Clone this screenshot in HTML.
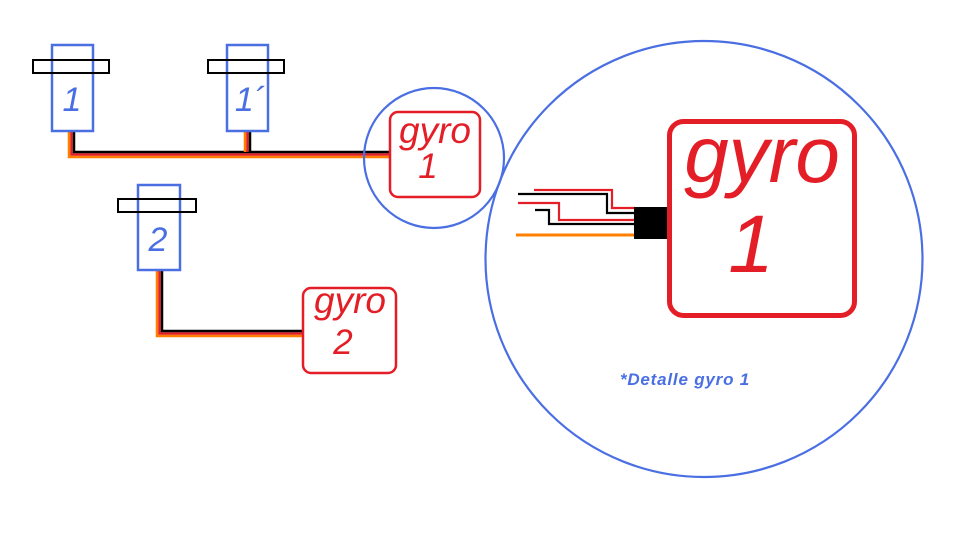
<!DOCTYPE html>
<html>
<head>
<meta charset="utf-8">
<style>
  html, body { margin:0; padding:0; background:#ffffff; }
  svg { display:block; }
  text { font-family: "Liberation Sans", "DejaVu Sans", sans-serif; font-style: italic; }
</style>
</head>
<body>
<svg width="958" height="540" viewBox="0 0 958 540" xmlns="http://www.w3.org/2000/svg">
  <rect x="0" y="0" width="958" height="540" fill="#ffffff"/>

  <!-- Wires: servo1 & servo1' to gyro1 -->
  <g fill="none" stroke-linejoin="miter">
    <!-- orange (outer/bottom-left) -->
    <polyline points="69,132 69,157 389,157" stroke="#ff7f00" stroke-width="2.5"/>
    <!-- red -->
    <polyline points="71.5,132 71.5,154.5 389,154.5" stroke="#e41e26" stroke-width="2.5"/>
    <!-- black -->
    <polyline points="74,132 74,152 389,152" stroke="#000000" stroke-width="2.5"/>
    <!-- servo 1' drop -->
    <line x1="245" y1="132" x2="245" y2="152" stroke="#ff7f00" stroke-width="2.5"/>
    <line x1="247.5" y1="132" x2="247.5" y2="152" stroke="#e41e26" stroke-width="2.5"/>
    <line x1="250" y1="132" x2="250" y2="152" stroke="#000000" stroke-width="2.5"/>

    <!-- servo 2 to gyro 2 -->
    <polyline points="157,271 157,336 302,336" stroke="#ff7f00" stroke-width="2.5"/>
    <polyline points="159.5,271 159.5,333.5 302,333.5" stroke="#e41e26" stroke-width="2.5"/>
    <polyline points="162,271 162,331 302,331" stroke="#000000" stroke-width="2.5"/>
  </g>

  <!-- Servo 1 -->
  <rect x="52" y="45" width="41" height="86" fill="none" stroke="#4a6fe3" stroke-width="2.5"/>
  <rect x="33" y="60" width="76" height="13" fill="none" stroke="#000" stroke-width="2"/>
  <text x="72" y="111" font-size="34" fill="#4a6fe3" text-anchor="middle">1</text>

  <!-- Servo 1' -->
  <rect x="227" y="45" width="41" height="86" fill="none" stroke="#4a6fe3" stroke-width="2.5"/>
  <rect x="208" y="60" width="76" height="13" fill="none" stroke="#000" stroke-width="2"/>
  <text x="250" y="111" font-size="34" fill="#4a6fe3" text-anchor="middle">1´</text>

  <!-- Servo 2 -->
  <rect x="138" y="185" width="42" height="85" fill="none" stroke="#4a6fe3" stroke-width="2.5"/>
  <rect x="118" y="199" width="78" height="13" fill="none" stroke="#000" stroke-width="2"/>
  <text x="158" y="251" font-size="34" fill="#4a6fe3" text-anchor="middle">2</text>

  <!-- Gyro 1 small -->
  <rect x="390" y="112" width="90" height="85" rx="8" ry="8" fill="#ffffff" stroke="#e41e26" stroke-width="2.5"/>
  <text x="435" y="143" font-size="37" fill="#e41e26" text-anchor="middle">gyro</text>
  <text x="428" y="178" font-size="35" fill="#e41e26" text-anchor="middle">1</text>

  <!-- Gyro 2 -->
  <rect x="303" y="288" width="93" height="85" rx="8" ry="8" fill="#ffffff" stroke="#e41e26" stroke-width="2.5"/>
  <text x="350" y="313" font-size="37" fill="#e41e26" text-anchor="middle">gyro</text>
  <text x="343" y="354" font-size="35" fill="#e41e26" text-anchor="middle">2</text>

  <!-- Small circle -->
  <circle cx="434" cy="158" r="70" fill="none" stroke="#4a6fe3" stroke-width="2.2"/>

  <!-- Big circle -->
  <ellipse cx="704" cy="259" rx="218.5" ry="218" fill="none" stroke="#4a6fe3" stroke-width="2.2"/>

  <!-- Detail wires -->
  <g fill="none" stroke-width="2.2">
    <polyline points="534,190 612,190 612,208 635,208" stroke="#e41e26"/>
    <polyline points="518,194 607,194 607,213 635,213" stroke="#000000"/>
    <polyline points="518,203 559,203 559,220 635,220" stroke="#e41e26"/>
    <polyline points="535,210 549,210 549,224 635,224" stroke="#000000"/>
  </g>
  <line x1="516" y1="235" x2="635" y2="235" stroke="#ff7f00" stroke-width="3"/>
  <rect x="634" y="207" width="33" height="32" fill="#000000"/>

  <!-- Big gyro box -->
  <rect x="669.5" y="121.5" width="185" height="194" rx="14" ry="14" fill="none" stroke="#e41e26" stroke-width="5"/>
  <text x="762" y="182" font-size="80" fill="#e41e26" text-anchor="middle">gyro</text>
  <text x="751" y="272" font-size="82" fill="#e41e26" text-anchor="middle">1</text>

  <!-- Caption -->
  <text x="685" y="385" font-size="17" font-weight="bold" fill="#4a6fe3" text-anchor="middle" letter-spacing="0.8">*Detalle gyro 1</text>
</svg>
</body>
</html>
